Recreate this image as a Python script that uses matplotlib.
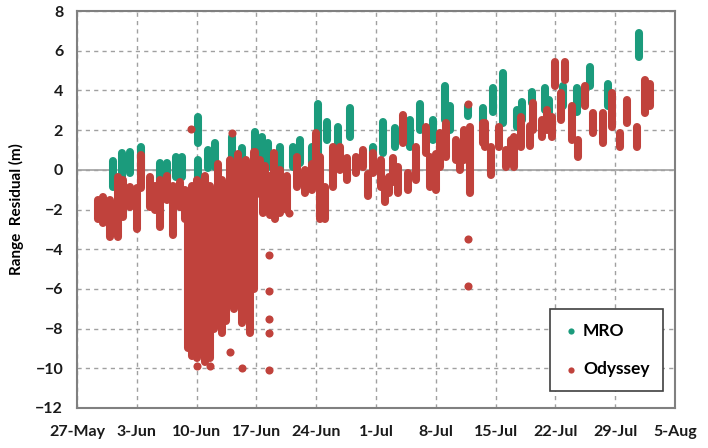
import numpy as np
import matplotlib
matplotlib.use("Agg")
import matplotlib.pyplot as plt

plt.rcParams['font.family'] = ['Lato', 'DejaVu Sans']
plt.rcParams['font.weight'] = 'bold'

# x values are days after 27-May
tick_days = [0, 7, 14, 21, 28, 35, 42, 49, 56, 63, 70]
tick_labels = ['27-May', '3-Jun', '10-Jun', '17-Jun', '24-Jun', '1-Jul',
               '8-Jul', '15-Jul', '22-Jul', '29-Jul', '5-Aug']

# MRO passes: day, low, high (m)
mro_day = [4.2, 5.3, 6.2, 7.5, 9.7, 10.5, 11.6, 12.3, 14.2, 14.2, 15.3, 16.2,
           18.1, 19.3, 20.8, 21.7, 22.4, 23.8, 25.3, 26.1, 27.5, 28.2, 29.3,
           30.6, 32.0, 34.7, 35.8, 37.2, 39.0, 40.2, 41.7, 43.1, 43.7, 45.8,
           47.5, 48.7, 49.9, 51.5, 52.1, 53.3, 54.8, 55.2, 56.9, 58.5, 60.1,
           62.1, 65.8]
mro_lo = [-0.85, -0.35, -0.15, 0.0, -0.85, -0.5, -0.35, -0.35, 1.35, -0.5,
          0.1, 0.15, -0.15, 0.35, 0.65, 0.35, 0.15, 0.0, 0.15, 0.35, 0.35,
          0.5, 1.5, 1.15, 1.65, 0.35, 0.85, 1.15, 1.15, 2.0, 1.5, 2.5, 2.0,
          2.7, 2.35, 2.9, 2.35, 2.15, 2.5, 3.35, 3.0, 2.5, 3.2, 2.9, 4.2,
          3.2, 5.7]
mro_hi = [0.45, 0.85, 0.9, 1.15, 0.35, 0.35, 0.65, 0.65, 2.65, 0.5, 1.0,
          1.35, 1.65, 1.1, 1.9, 1.65, 1.35, 1.15, 1.15, 1.5, 1.15, 3.3, 2.4,
          2.15, 3.1, 1.15, 2.4, 2.1, 2.5, 3.3, 2.5, 4.2, 3.2, 3.2, 3.1, 4.1,
          4.9, 3.0, 3.4, 3.9, 4.1, 3.5, 4.2, 4.1, 5.2, 4.3, 6.9]
mro_pt_day = [14.2]
mro_pt_val = [-1.65]

# Odyssey passes: day, low, high (m)
ody_day = [2.5, 3.0, 3.9, 4.8, 5.4, 6.2, 7.0, 7.5, 8.5, 9.1, 9.7, 10.5,
           11.2, 12.1, 12.6,
           13.0, 13.5, 14.1, 14.5, 15.0, 15.6, 16.0, 16.5, 17.0, 17.4, 17.9,
           18.4, 18.9, 19.3, 19.8, 20.3, 20.7,
           20.8, 21.4, 21.8, 22.0, 22.6, 23.0, 23.2, 23.8, 24.6, 25.8, 26.7,
           27.5, 28.0, 28.5, 29.0, 30.0, 30.8, 31.6, 32.7, 33.5, 34.1, 34.7,
           35.6, 36.0, 36.5, 37.0, 37.6, 38.2, 38.8, 39.7, 40.9, 41.3, 42.0,
           42.5, 43.2, 44.4, 44.8, 45.3, 46.0, 47.5,
           47.7, 48.5, 49.4, 50.2, 50.8, 51.2, 52.0, 53.0, 53.4, 54.4, 55.0,
           55.6, 56.0, 56.6, 57.1, 58.0, 58.7, 59.5, 60.4, 61.6, 62.6, 63.6,
           64.4, 65.5, 66.5, 67.1]
ody_lo = [-2.5, -2.7, -3.4, -3.4, -2.4, -1.85, -3.0, -0.9, -1.85, -2.0,
          -2.9, -1.5, -3.3, -1.85, -2.5,
          -9.0, -9.4, -9.5, -9.0, -9.7, -9.5, -8.0, -7.0, -8.2, -7.6, -6.8,
          -7.0, -6.0, -7.7, -7.0, -8.2, -6.0,
          -0.5, -1.2, -2.2, -1.8, -2.3, -0.85, -2.5, -2.2, -2.0, -0.85, -1.15,
          -1.0, 0.15, -2.5, -2.5, -0.85, 0.0, -0.5, -0.15, 0.15, -1.3, -0.15,
          -0.85, -1.6, -1.15, -0.6, -1.15, 1.35, -1.0, -0.5, 0.85, -0.85,
          -1.0, 0.15, 0.65, 0.5, 0.0, 0.5, -1.15, 1.35,
          1.15, -0.25, 1.15, 0.15, 0.5, 0.15, 1.15, 1.2, 2.0, 1.65, 2.0,
          1.65, 4.2, 2.5, 4.5, 1.5, 0.65, 3.2, 1.85, 1.35, 2.15, 1.15,
          2.35, 1.15, 2.85, 3.2]
ody_hi = [-1.5, -1.35, -1.5, -0.35, -0.5, -0.85, -0.9, 0.75, -0.35, -0.8,
          -0.5, -0.3, -0.8, -0.6, -1.0,
          -1.5, -0.8, -0.5, -1.0, -0.3, -0.8, -1.2, 0.3, -0.5, -1.0, 0.5,
          -0.3, 0.8, -0.5, 0.5, -0.3, 0.9,
          0.9, 0.5, 0.15, 0.2, -0.3, 0.85, -0.8, 0.0, -0.3, 0.65, 0.0, 0.3,
          1.85, 0.65, -0.85, 1.15, 1.15, 0.6, 0.65, 1.0, -0.2, 0.85,
          0.5, -0.5, -0.35, 0.6, 0.15, 2.75, -0.15, 1.15, 2.15, 0.65,
          0.8, 1.85, 2.35, 1.5, 1.2, 2.0, 2.15, 2.35,
          2.35, 1.15, 2.15, 1.0, 1.5, 1.65, 2.65, 2.2, 3.35, 2.5, 3.0,
          2.65, 5.45, 3.85, 5.45, 3.2, 1.5, 4.2, 2.85, 2.85, 3.85, 1.85,
          3.5, 2.15, 4.5, 4.3]
ody_pt_day = [13.3, 14.1, 15.6, 17.9, 18.1, 19.3, 22.5, 22.5, 22.5, 22.5,
              22.5, 24.8, 45.8, 45.8, 45.8]
ody_pt_val = [2.05, -9.9, -9.9, -9.2, 1.85, -10.0, -4.3, -6.1, -7.5, -8.2,
              -10.1, -2.2, 3.3, -3.5, -5.85]

mro_color = '#1b9b7c'
ody_color = '#c0423c'
lw = 5.8

fig = plt.figure(figsize=(7.08, 4.48), dpi=100)
ax = fig.add_axes([0.1088, 0.0893, 0.8446, 0.8861])

ax.set_axisbelow(True)
ax.grid(True, color='#a0a0a0', linestyle=(0, (3, 3)), linewidth=1.0)
ax.axhline(0, color='#a0a0a0', linewidth=1.2, zorder=1)

mro = ax.vlines(mro_day, mro_lo, mro_hi, colors=mro_color, linewidth=lw, zorder=2)
mro.set_capstyle('round')
ax.scatter(mro_pt_day, mro_pt_val, s=34, color=mro_color, lw=0, zorder=2)

ody = ax.vlines(ody_day, ody_lo, ody_hi, colors=ody_color, linewidth=lw, zorder=3)
ody.set_capstyle('round')
ax.scatter(ody_pt_day, ody_pt_val, s=34, color=ody_color, lw=0, zorder=3)

ax.set_xlim(0, 70)
ax.set_ylim(-12, 8)
ax.set_xticks(tick_days)
ax.set_xticklabels(tick_labels)
ax.set_yticks(np.arange(-12, 9, 2))
ax.tick_params(axis='both', length=0, labelsize=11.5, colors='#1a1a1a')
ax.tick_params(axis='x', pad=12)
ax.tick_params(axis='y', pad=10)
for s in ax.spines.values():
    s.set_color('#808080')
    s.set_linewidth(1.5)

ax.set_ylabel('Range  Residual (m)', fontsize=11, fontweight='bold', labelpad=8)

h1 = ax.scatter([], [], s=20, color=mro_color, lw=0, label='MRO')
h2 = ax.scatter([], [], s=20, color=ody_color, lw=0, label='Odyssey')
leg = ax.legend(handles=[h1, h2], loc='lower right', fontsize=12.5, fancybox=False,
                framealpha=1, edgecolor='#404040', handlelength=0.8,
                handletextpad=0.3, labelspacing=1.3, borderpad=0.8,
                bbox_to_anchor=(0.995, 0.02))
leg.get_frame().set_linewidth(1.2)

fig.savefig('out.png', dpi=100)
